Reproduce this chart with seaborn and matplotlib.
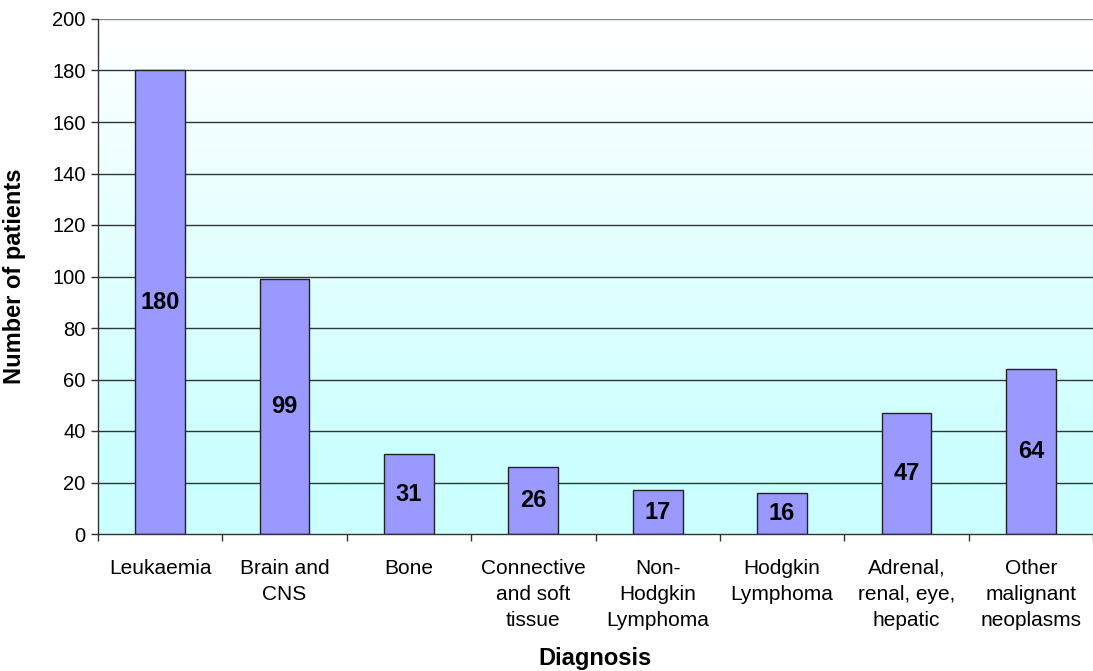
import numpy as np
import pandas as pd
import matplotlib
matplotlib.use("Agg")
import matplotlib.pyplot as plt
import seaborn as sns
from matplotlib.colors import LinearSegmentedColormap

# Patient counts by diagnosis group
categories = [
    "Leukaemia",
    "Brain and\nCNS",
    "Bone",
    "Connective\nand soft\ntissue",
    "Non-\nHodgkin\nLymphoma",
    "Hodgkin\nLymphoma",
    "Adrenal,\nrenal, eye,\nhepatic",
    "Other\nmalignant\nneoplasms",
]
patients = [180, 99, 31, 26, 17, 16, 47, 64]
y_ticks = [0, 20, 40, 60, 80, 100, 120, 140, 160, 180, 200]

df = pd.DataFrame({"Diagnosis": categories, "Patients": patients})

sns.set_theme(style="white")
plt.rcParams["font.family"] = ["Liberation Sans", "DejaVu Sans"]
plt.rcParams["text.color"] = "black"
plt.rcParams["axes.labelcolor"] = "black"
plt.rcParams["xtick.color"] = "black"
plt.rcParams["ytick.color"] = "black"

fig = plt.figure(figsize=(10.93, 6.71), dpi=100)
ax = fig.add_axes([98 / 1093, (671 - 534) / 671, (1093 - 98) / 1093, (534 - 19) / 671])

# Plot-area background: white fading to pale cyan toward the baseline
grad = np.linspace(0, 1, 256).reshape(-1, 1)
cmap = LinearSegmentedColormap.from_list(
    "bg", [(0.0, "#FFFFFF"), (0.85, "#CCFFFF"), (1.0, "#CCFFFF")])
ax.imshow(grad, extent=[0, 1, 0, 1], transform=ax.transAxes, cmap=cmap,
          aspect="auto", zorder=0, origin="upper")

sns.barplot(data=df, x="Diagnosis", y="Patients", color="#9999FF",
            saturation=1, width=0.4, edgecolor="#222222", linewidth=1.0,
            ax=ax, zorder=3)

ax.set_xlim(-0.5, len(categories) - 0.5)
ax.set_ylim(0, 200)
ax.set_yticks(y_ticks)
ax.set_yticklabels([str(v) for v in y_ticks], fontsize=14.5)
for v in y_ticks[1:]:
    ax.axhline(v, color="#333333" if v < 200 else "#888888", lw=1.0, zorder=1)

# Category separators as ticks, labels centred under the bars
ax.set_xticks(np.arange(-0.5, len(categories)), labels=[""] * (len(categories) + 1))
ax.set_xticks(np.arange(len(categories)), labels=categories, minor=True)
ax.tick_params(axis="x", which="major", direction="out", length=5, width=1,
               color="#333333", bottom=True)
ax.tick_params(axis="x", which="minor", length=0, pad=18, labelsize=15)
for lbl in ax.get_xticklabels(minor=True):
    lbl.set_linespacing(1.45)
    lbl.set_ha("center")
ax.tick_params(axis="y", direction="out", length=5, width=1, color="#333333",
               left=True, pad=4)

for s in ["top", "right"]:
    ax.spines[s].set_visible(False)
for s in ["left", "bottom"]:
    ax.spines[s].set_color("#333333")
    ax.spines[s].set_linewidth(1.0)
    ax.spines[s].set_zorder(5)

# Value labels centred in each bar
for i, v in enumerate(patients):
    ax.text(i, v / 2, str(v), ha="center", va="center", fontsize=17,
            fontweight="bold", zorder=4)

ax.set_xlabel("Diagnosis", fontsize=17, fontweight="bold")
ax.xaxis.set_label_coords(0.5, -0.219)
ax.set_ylabel("Number of patients", fontsize=17, fontweight="bold")
ax.yaxis.set_label_coords(-0.072, 0.5)

fig.savefig("out.png", dpi=100)
